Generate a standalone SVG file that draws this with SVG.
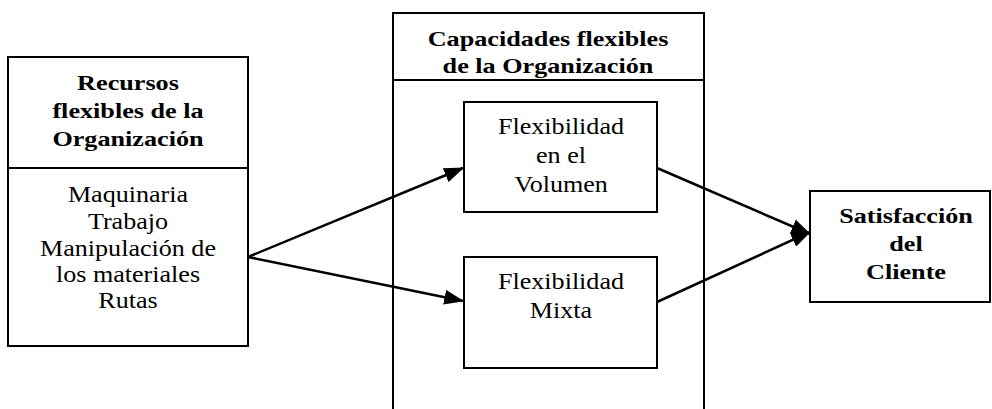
<svg xmlns="http://www.w3.org/2000/svg" width="992" height="409" viewBox="0 0 992 409">
<style>
.box{fill:none;stroke:#000;stroke-width:2}
.ln{stroke:#000;stroke-width:2.5;fill:none}
.b{font-family:"Liberation Serif","Times New Roman",serif;font-weight:bold;font-size:22px;text-anchor:middle;fill:#000}
.r{font-family:"Liberation Serif","Times New Roman",serif;font-size:23.5px;text-anchor:middle;fill:#000}
</style>
<defs>
<marker id="ah" markerWidth="8" markerHeight="6" refX="7.5" refY="3" orient="auto" markerUnits="strokeWidth">
<path d="M0,0 L8,3 L0,6 Z" fill="#000"/>
</marker>
</defs>
<rect width="992" height="409" fill="#fff"/>
<g id="recursos">
<rect class="box" x="8" y="57" width="240" height="289"/>
<line class="box" x1="8" y1="168" x2="248" y2="168"/>
<g transform="translate(128,0) scale(1.19,1)">
<text class="b" x="0" y="90">Recursos</text>
<text class="b" x="0" y="118">flexibles de la</text>
<text class="b" x="0" y="146">Organización</text>
</g>
<g transform="translate(128,0) scale(1.11,1)">
<text class="r" x="0" y="202">Maquinaria</text>
<text class="r" x="0" y="229">Trabajo</text>
<text class="r" x="0" y="256">Manipulación de</text>
<text class="r" x="0" y="282">los materiales</text>
<text class="r" x="0" y="308">Rutas</text>
</g>
</g>
<g id="capacidades">
<path class="box" d="M393,409 L393,13 L704,13 L704,409"/>
<line class="box" x1="393" y1="80" x2="704" y2="80"/>
<g transform="translate(548,0) scale(1.19,1)">
<text class="b" x="0" y="46">Capacidades flexibles</text>
<text class="b" x="0" y="73">de la Organización</text>
</g>
</g>
<g id="volumen">
<rect class="box" x="464" y="102" width="193" height="110"/>
<g transform="translate(561,0) scale(1.11,1)">
<text class="r" x="0" y="134">Flexibilidad</text>
<text class="r" x="0" y="163">en el</text>
<text class="r" x="0" y="192">Volumen</text>
</g>
</g>
<g id="mixta">
<rect class="box" x="464" y="257" width="193" height="111"/>
<g transform="translate(561,0) scale(1.11,1)">
<text class="r" x="0" y="289">Flexibilidad</text>
<text class="r" x="0" y="318">Mixta</text>
</g>
</g>
<g id="satisfaccion">
<rect class="box" x="810" y="191" width="180" height="111"/>
<g transform="translate(906,0) scale(1.19,1)">
<text class="b" x="0" y="223">Satisfacción</text>
<text class="b" x="0" y="251">del</text>
<text class="b" x="0" y="279">Cliente</text>
</g>
</g>
<g id="connectors">
<line class="ln" x1="248" y1="257" x2="463" y2="168" marker-end="url(#ah)"/>
<line class="ln" x1="248" y1="257" x2="463" y2="301" marker-end="url(#ah)"/>
<line class="ln" x1="657" y1="168" x2="810" y2="234" marker-end="url(#ah)"/>
<line class="ln" x1="657" y1="302" x2="810" y2="232" marker-end="url(#ah)"/>
</g>
</svg>
